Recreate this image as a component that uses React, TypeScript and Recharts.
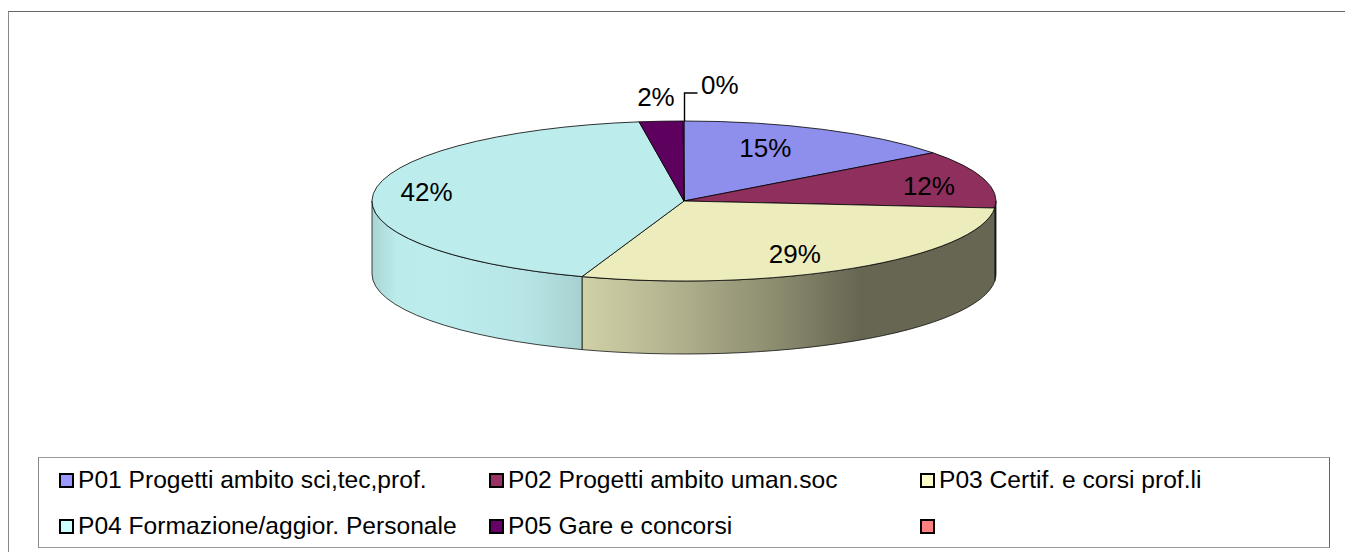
import { Legend, Pie, PieChart } from "recharts";

const names = [
  "P01 Progetti ambito sci,tec,prof.",
  "P02 Progetti ambito uman.soc",
  "P03 Certif. e corsi prof.li",
  "P04 Formazione/aggior. Personale",
  "P05 Gare e concorsi",
  "",
];
const values = [14.7, 11.7, 28.9, 42.4, 2.26, 0.04];
const colors = ["#9999FF", "#993366", "#FFFFCC", "#CCFFFF", "#660066", "#FF8080"];

const data = names.map((name, i) => ({ name, value: values[i], fill: colors[i] }));

const FONT = '"Liberation Sans", Arial, sans-serif';
const CX = 684;
const CY = 201;
const RX = 312;
const RY = 80;
const DEPTH = 73;

// side wall lighting, left to right across the pie
const lightStops = [
  [0, 0.83],
  [0.04, 0.92],
  [0.11, 0.925],
  [0.24, 0.9],
  [0.337, 0.82],
  [0.494, 0.69],
  [0.654, 0.54],
  [0.782, 0.4],
  [1, 0.4],
];

// nudges from the point at 70% of the radius, to where the labels sit
const labelNudges = [
  [-16, -3],
  [35, 0],
  [-8, 6],
  [-40, -4],
  [-12, -48],
  [36, -60],
];

function shade(hex: string, k: number) {
  const n = parseInt(hex.slice(1), 16);
  const c = [(n >> 16) & 255, (n >> 8) & 255, n & 255].map((v) => Math.round(v * k));
  return `rgb(${c[0]},${c[1]},${c[2]})`;
}

function point(cx: number, cy: number, rx: number, deg: number) {
  const rad = (deg * Math.PI) / 180;
  return [cx + rx * Math.cos(rad), cy - rx * (RY / RX) * Math.sin(rad)];
}

function Slice(props: any) {
  const { cx, cy, outerRadius: rx, startAngle, endAngle, fill, index } = props;
  const ry = rx * (RY / RX);
  const [x1, y1] = point(cx, cy, rx, startAngle);
  const [x2, y2] = point(cx, cy, rx, endAngle);
  const large = Math.abs(startAngle - endAngle) > 180 ? 1 : 0;
  const top = `M${cx},${cy} L${x1},${y1} A${rx},${ry} 0 ${large} 1 ${x2},${y2} Z`;

  // only the front half of the rim shows a wall
  const from = Math.min(startAngle, 0);
  const to = Math.max(endAngle, -180);
  let wall = null;
  if (from > to) {
    const [wx1, wy1] = point(cx, cy, rx, from);
    const [wx2, wy2] = point(cx, cy, rx, to);
    const id = `wall-${index}`;
    wall = (
      <g>
        <defs>
          <linearGradient id={id} gradientUnits="userSpaceOnUse" x1={cx - rx} y1={0} x2={cx + rx} y2={0}>
            {lightStops.map(([o, k]) => (
              <stop key={o} offset={o} stopColor={shade(fill, k)} />
            ))}
          </linearGradient>
        </defs>
        <path
          d={`M${wx1},${wy1} A${rx},${ry} 0 0 1 ${wx2},${wy2} L${wx2},${wy2 + DEPTH} A${rx},${ry} 0 0 0 ${wx1},${wy1 + DEPTH} Z`}
          fill={`url(#${id})`}
          stroke="#111"
          strokeWidth={0.8}
        />
      </g>
    );
  }

  return (
    <g>
      {wall}
      <path d={top} fill={shade(fill, 0.925)} stroke="#000" strokeWidth={0.8} />
    </g>
  );
}

function SliceLabel(props: any) {
  const { cx, cy, outerRadius, midAngle, percent, index } = props;
  const [mx, my] = point(cx, cy, outerRadius * 0.7, midAngle);
  const [dx, dy] = labelNudges[index];
  const [ex, ey] = point(cx, cy, outerRadius, midAngle);
  const lx = Math.round(ex) + 0.5;
  return (
    <g>
      {index === names.length - 1 && (
        <path d={`M${lx},${Math.round(ey)} V${Math.round(ey) - 28} H${lx + 13}`} fill="none" stroke="#000" strokeWidth={1.4} />
      )}
      <text
        x={mx + dx}
        y={my + dy}
        textAnchor="middle"
        dominantBaseline="central"
        fontFamily={FONT}
        fontSize={26}
        fill="#000"
      >
        {`${Math.round(percent * 100)}%`}
      </text>
    </g>
  );
}

const legendCols = [21, 451, 882];
const legendRows = [22, 68];

function LegendBox({ payload }: any) {
  return (
    <div
      style={{
        position: "relative",
        width: 1290,
        height: 89,
        borderTop: "1px solid #999",
        borderBottom: "1px solid #999",
        borderLeft: "1px solid #888",
        borderRight: "1px solid #666",
        background: "#fff",
        fontFamily: FONT,
        fontSize: 24.6,
        color: "#000",
      }}
    >
      {(payload || []).map((item: any, i: number) => (
        <div
          key={i}
          style={{
            position: "absolute",
            left: legendCols[i % 3] - 1,
            top: legendRows[Math.floor(i / 3)] - 14,
            height: 28,
            lineHeight: "28px",
            whiteSpace: "nowrap",
          }}
        >
          <span
            style={{
              position: "absolute",
              left: 0,
              top: 7,
              width: 11,
              height: 11,
              border: "2px solid #000",
              background: colors[i],
            }}
          />
          <span style={{ marginLeft: 19 }}>{names[i]}</span>
        </div>
      ))}
    </div>
  );
}

export default function App() {
  return (
    <div style={{ position: "absolute", left: 0, top: 0, width: 1345, height: 552, overflow: "hidden", background: "#fff" }}>
      <div
        style={{
          position: "absolute",
          left: 8,
          top: 11,
          width: 1340,
          height: 545,
          borderTop: "1px solid #666",
          borderLeft: "1px solid #888",
        }}
      />
      <PieChart width={1345} height={552} margin={{ top: 0, right: 0, bottom: 0, left: 0 }}>
        <Pie
          data={data}
          dataKey="value"
          nameKey="name"
          cx={CX}
          cy={CY}
          innerRadius={0}
          outerRadius={RX}
          startAngle={90}
          endAngle={-270}
          shape={Slice}
          label={SliceLabel}
          labelLine={false}
          isAnimationActive={false}
        />
        <Legend
          content={LegendBox}
          wrapperStyle={{ position: "absolute", left: 38, top: 457, width: 1292, height: 91 }}
        />
      </PieChart>
    </div>
  );
}
